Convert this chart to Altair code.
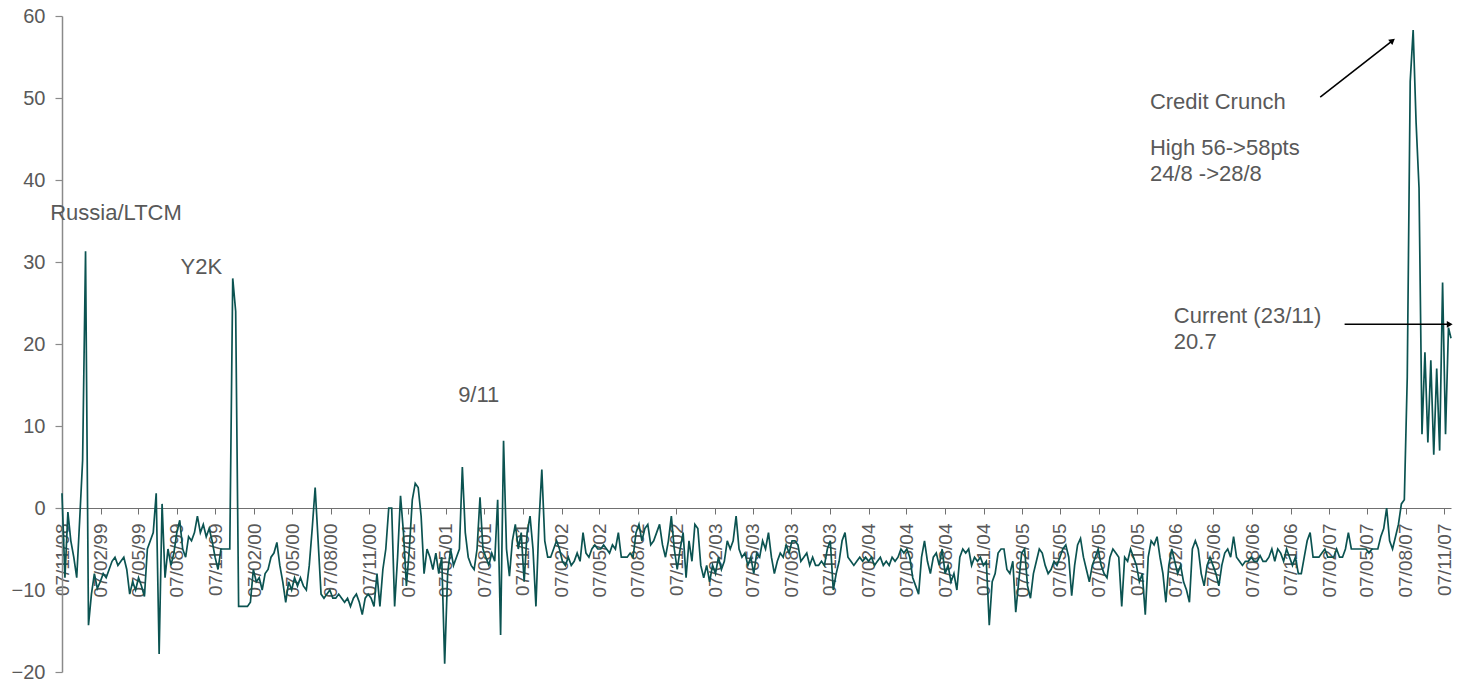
import altair as alt
import pandas as pd

# ---- data (weekly readings from the picture, 07/11/1998 onwards) ----
start_date = "1998-11-07"
end_date = "2007-11-23"
weekly_values = [
    1.8, -8.5, -0.5, -4, -6, -8.5, -1.5, 5.8, 31.3, -14.3,          # 0
    -10.5, -8, -9.8, -9, -8, -8.5, -7.5, -6.5, -6, -7,             # 10
    -6.5, -6, -7.5, -10.5, -9, -10, -8.5, -9.5, -10.8, -5,         # 20
    -4, -3, 1.8, -17.8, 0.5, -8.5, -5, -7, -5.5, -3,               # 30
    -1.5, -5, -6, -3.5, -4, -3, -1, -3, -2, -3.5,                  # 40
    -2.5, -4, -6, -7.5, -5, -5, -5, -5, 28, 24,                    # 50
    -12, -12, -12, -12, -11.5, -7.5, -9, -8.5, -10, -8,            # 60
    -7.5, -6, -5.5, -4.2, -7, -9, -11.5, -9, -10, -8.5,            # 70
    -9.5, -8.5, -9.5, -10, -7, -2.5, 2.5, -4, -10.5, -11,          # 80
    -10.5, -10, -11, -11, -10.5, -11, -11.5, -11, -12, -11,        # 90
    -10.5, -11.5, -13, -11, -10.5, -11, -12, -8, -12, -7.5,        # 100
    -5, 0, 0, -12, -6, 1.5, -3, -9.5, -5, 1,                       # 110
    3, 2.5, -1, -8, -5, -6, -7.5, -5.5, -8, -6,                    # 120
    -19, -8, -5, -7, -6, -5, 5, -3, -6, -7,                        # 130
    -7.5, -5, 1.3, -5, -6, -7, -5.5, -6.5, 1, -15.5,               # 140
    8.2, -5, -8.3, -4, -2, -5, -3, -9, -3, -1,                     # 150
    -5, -12, -2, 4.7, -4, -6, -6, -5, -4, -5,                      # 160
    -6.5, -7, -6, -7, -6.5, -5.5, -6.5, -3, -5.5, -6,              # 170
    -5, -4.5, -5, -5, -4.5, -5, -5.5, -4.5, -5, -3,                # 180
    -6, -6, -6, -5.5, -6, -3, -2, -4, -2.5, -2,                    # 190
    -4.5, -4, -3, -2, -4.5, -6, -4, -1, -5, -7.5,                  # 200
    -5, -3, -8.5, -4, -6.5, -2, -2.5, -7, -8.5, -7,                # 210
    -9, -7, -8, -6, -7.5, -6.5, -4, -5, -4, -1,                    # 220
    -5, -6, -5.5, -7, -6, -8, -5.5, -6, -4, -5,                    # 230
    -3, -6, -8, -6.5, -5.5, -6, -4.5, -5.5, -4, -4,                # 240
    -4.5, -6.5, -6, -5.5, -7, -6, -7, -7, -6.5, -7,                # 250
    -5, -4, -10, -8, -6.5, -4, -3, -6, -6.5, -7,                   # 260
    -6.5, -6, -6.5, -6, -6.5, -6, -7, -6.5, -6, -7,                # 270
    -6.5, -7, -6, -6.5, -6, -5, -5.5, -5, -6, -8.5,                # 280
    -9.5, -10.5, -6, -4, -6.5, -8, -6, -5.5, -7, -5,               # 290
    -8, -7, -9, -8, -10, -6, -5, -5.5, -5, -7,                     # 300
    -6, -6.5, -6, -7, -6.5, -14.3, -9, -8, -5.5, -5,               # 310
    -5, -7.5, -8, -6.5, -12.7, -9, -5.5, -5, -9.5, -11,            # 320
    -8, -6.5, -5, -5.5, -7, -8, -7.5, -6.5, -7, -6,                # 330
    -5, -4.5, -6, -10.7, -7, -4.5, -3.7, -6, -7.5, -9,             # 340
    -7, -6, -5, -7, -8, -8.5, -6, -5, -5.5, -6,                    # 350
    -12, -6, -6.5, -5, -6, -7, -9, -8, -13, -6,                    # 360
    -4, -4.5, -3.5, -6, -8, -11.5, -7, -5, -6.5, -8,               # 370
    -7, -9, -10, -11.5, -5, -4, -5, -8, -9.5, -7,                  # 380
    -6, -7, -8, -9.5, -7, -5.5, -5, -6, -3.5, -6,                  # 390
    -6.5, -7, -6.5, -6.5, -6, -6.5, -6.5, -5.8, -6.5, -6.5,        # 400
    -6, -5, -6.5, -5, -5.5, -6.5, -5, -6, -7, -6,                  # 410
    -8, -8, -6, -4, -3, -6, -6, -6, -5.5, -5,                      # 420
    -6, -6, -6, -5, -6, -6, -5, -3, -5, -5,                        # 430
    -5, -5, -5, -5, -5.5, -5, -5, -5, -3.5, -2.5,                  # 440
    0, -4, -5, -3.5, -2, 0.5, 1, 16, 52, 58.3,                     # 450
    47, 39, 9, 19, 8, 18, 6.5, 17, 7, 27.5,                        # 460
    9, 22,                                                         # 470
]
final_value = 20.7

tick_dates = [
    "1998-11-07", "1999-02-07", "1999-05-07", "1999-08-07", "1999-11-07",
    "2000-02-07", "2000-05-07", "2000-08-07", "2000-11-07",
    "2001-02-07", "2001-05-07", "2001-08-07", "2001-11-07",
    "2002-02-07", "2002-05-07", "2002-08-07", "2002-11-07",
    "2003-02-07", "2003-05-07", "2003-08-07", "2003-11-07",
    "2004-02-07", "2004-05-07", "2004-08-07", "2004-11-07",
    "2005-02-07", "2005-05-07", "2005-08-07", "2005-11-07",
    "2006-02-07", "2006-05-07", "2006-08-07", "2006-11-07",
    "2007-02-07", "2007-05-07", "2007-08-07", "2007-11-07",
]
y_ticks = [-20, -10, 0, 10, 20, 30, 40, 50, 60]

note_texts = ["Russia/LTCM", "Y2K", "9/11", "Credit Crunch", "High 56->58pts",
              "24/8 ->28/8", "Current (23/11)", "20.7"]
note_dates = ["1998-10-10", "1999-08-16", "2001-06-06", "2005-12-07", "2005-12-07",
              "2005-12-07", "2006-02-02", "2006-02-02"]
note_values = [36.0, 29.4, 13.8, 49.5, 43.9, 40.7, 23.4, 20.2]

arrow_start_dates = ["2007-01-16", "2007-03-15"]
arrow_start_values = [50.1, 22.4]
arrow_end_dates = ["2007-07-07", "2007-11-20"]
arrow_end_values = [57.0, 22.4]
arrow_angles = [52, 90]

# ---- build tables ----
def ms(d):
    return int(pd.Timestamp(d).value // 10**6)

dates = pd.date_range(start_date, periods=len(weekly_values), freq="7D")
series = pd.DataFrame({
    "t": [int(d.value // 10**6) for d in dates] + [ms(end_date)],
    "v": weekly_values + [final_value],
})
notes = pd.DataFrame({"t": [ms(d) for d in note_dates], "v": note_values, "txt": note_texts})
arrows = pd.DataFrame({
    "t": [ms(d) for d in arrow_start_dates], "v": arrow_start_values,
    "t2": [ms(d) for d in arrow_end_dates], "v2": arrow_end_values,
    "ang": arrow_angles,
})

FONT = "Liberation Sans"
GREY = "#595959"
xscale = alt.Scale(domain=[ms(start_date), ms(end_date)])
yscale = alt.Scale(domain=[-20, 60], nice=False, zero=False)

xaxis = alt.Axis(
    values=[ms(d) for d in tick_dates],
    labelExpr="utcFormat(datum.value, '%d/%m/%y')",
    labelAngle=-90, labelAlign="right", labelBaseline="middle",
    labelFontSize=19, labelFont=FONT, labelColor=GREY,
    labelPadding=9, labelOverlap=False, labelFlush=False,
    tickSize=6, tickColor="#707070", domainColor="#707070",
    domainWidth=1, tickWidth=1, grid=False, offset=-164, zindex=0,
)
yaxis = alt.Axis(
    values=y_ticks, labelFontSize=20, labelFont=FONT, labelColor=GREY,
    labelPadding=10, tickSize=7, tickColor="#8a8a8a", domainColor="#8a8a8a",
    domainWidth=1.5, tickWidth=1.2, grid=False, zindex=0,
)


def xenc(field):
    return alt.X(field, type="temporal", scale=xscale, title=None, axis=xaxis)


def yenc(field):
    return alt.Y(field, type="quantitative", scale=yscale, title=None, axis=yaxis)


line = alt.Chart(series).mark_line(color="#0b5351", strokeWidth=1.7).encode(
    x=xenc("t"), y=yenc("v"),
)

text = alt.Chart(notes).mark_text(
    align="left", baseline="middle", fontSize=22, font=FONT, color=GREY
).encode(x=xenc("t"), y=yenc("v"), text="txt:N")

arrow_lines = alt.Chart(arrows).mark_rule(color="black", strokeWidth=1.6).encode(
    x=xenc("t"), y=yenc("v"), x2="t2:T", y2="v2:Q",
)

arrow_heads = alt.Chart(arrows).mark_point(
    shape="triangle-up", filled=True, color="black", size=45, opacity=1
).encode(
    x=xenc("t2"), y=yenc("v2"),
    angle=alt.Angle("ang:Q", scale=None),
)

chart = alt.layer(line, text, arrow_lines, arrow_heads).properties(
    width=1389, height=656,
    autosize=alt.AutoSizeParams(type="none"),
    padding={"left": 54, "top": 8, "right": 2, "bottom": 12},
).configure_view(stroke=None)

chart.save("out.html", embed_options={"renderer": "svg", "actions": False})
